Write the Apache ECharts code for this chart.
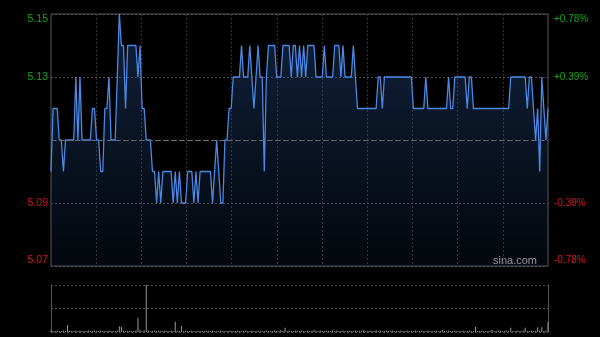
<!DOCTYPE html>
<html>
<head>
<meta charset="utf-8">
<script src="https://cdn.jsdelivr.net/npm/echarts@6/dist/echarts.min.js"></script>
<style>html,body{margin:0;padding:0;background:#000;}#c{width:600px;height:337px;}</style>
</head>
<body>
<div id="c"></div>
<script>
var prevClose = 5.11;
var priceTicks = [5.07, 5.09, 5.11, 5.13, 5.15];
var prices = [
5.10,5.12,5.12,5.12,5.11,5.11,5.10,5.11,5.11,5.11,5.11,5.11,5.13,5.11,5.13,5.11,5.11,5.11,5.11,5.11,
5.12,5.12,5.11,5.11,5.10,5.10,5.12,5.12,5.13,5.11,5.11,5.11,5.13,5.15,5.14,5.14,5.12,5.14,5.14,5.14,
5.14,5.14,5.13,5.14,5.12,5.12,5.11,5.11,5.11,5.10,5.10,5.09,5.10,5.09,5.10,5.10,5.10,5.10,5.10,5.09,
5.10,5.09,5.10,5.09,5.09,5.09,5.10,5.10,5.10,5.09,5.10,5.09,5.10,5.10,5.10,5.10,5.10,5.10,5.09,5.10,
5.11,5.10,5.09,5.09,5.11,5.11,5.12,5.12,5.13,5.13,5.13,5.13,5.14,5.13,5.13,5.13,5.14,5.13,5.12,5.13,
5.14,5.13,5.13,5.10,5.13,5.14,5.14,5.14,5.14,5.13,5.13,5.13,5.14,5.14,5.14,5.14,5.13,5.14,5.14,5.13,
5.14,5.13,5.14,5.13,5.14,5.14,5.14,5.14,5.13,5.13,5.13,5.13,5.14,5.13,5.13,5.13,5.13,5.14,5.14,5.14,
5.13,5.14,5.13,5.13,5.13,5.13,5.14,5.13,5.12,5.12,5.12,5.12,5.12,5.12,5.12,5.12,5.12,5.12,5.13,5.13,
5.12,5.13,5.13,5.13,5.13,5.13,5.13,5.13,5.13,5.13,5.13,5.13,5.13,5.13,5.13,5.12,5.12,5.12,5.12,5.12,
5.12,5.13,5.12,5.12,5.12,5.12,5.12,5.12,5.12,5.12,5.12,5.12,5.13,5.12,5.12,5.13,5.13,5.13,5.13,5.13,
5.13,5.12,5.13,5.13,5.12,5.12,5.12,5.12,5.12,5.12,5.12,5.12,5.12,5.12,5.12,5.12,5.12,5.12,5.12,5.12,
5.12,5.12,5.13,5.13,5.13,5.13,5.13,5.13,5.13,5.13,5.12,5.13,5.13,5.12,5.11,5.12,5.10,5.13,5.12,5.11,
5.12
];
var volumes = [
3,2,2,3,2,2,3,2,15,3,2,2,3,2,3,2,2,2,3,2,
2,3,2,2,3,2,2,2,3,2,2,2,3,12,11,3,2,2,3,2,
2,3,30,4,2,3,100,3,2,2,3,2,3,2,2,3,2,2,3,2,
22,3,2,13,2,3,2,2,3,2,2,3,2,2,2,3,2,2,3,2,
2,2,3,2,2,2,3,2,2,2,3,2,2,2,3,2,2,3,2,2,
3,2,2,2,3,2,2,2,3,2,2,4,2,9,2,3,2,2,3,2,
2,3,2,2,3,2,2,4,2,2,3,2,2,3,2,2,4,2,3,2,
2,3,2,2,3,2,2,3,2,2,3,4,2,2,3,2,2,4,2,3,
2,2,3,2,2,3,2,2,2,3,2,2,3,2,2,2,3,2,2,3,
2,2,3,2,2,2,3,2,2,4,2,2,3,2,2,3,2,2,2,3,
2,2,3,2,2,11,2,2,3,2,2,2,3,4,2,2,3,2,2,2,
3,2,9,2,2,3,2,2,3,9,2,2,3,2,2,10,3,10,2,3,
22
];
function buildTimes() {
  var t = [];
  function push(h0, m0, h1, m1) {
    var m = h0 * 60 + m0, e = h1 * 60 + m1;
    for (; m <= e; m++) {
      var h = Math.floor(m / 60), mm = m % 60;
      t.push((h < 10 ? '0' : '') + h + ':' + (mm < 10 ? '0' : '') + mm);
    }
  }
  push(9, 30, 11, 30);
  push(13, 1, 15, 0);
  return t;
}
var times = buildTimes();

var GREEN = '#16a516', RED = '#d01818';
function isMid(v) { return Math.abs(v - prevClose) < 1e-6; }
function isTop(v) { return Math.abs(v - priceTicks[priceTicks.length - 1]) < 1e-6; }
function isBot(v) { return Math.abs(v - priceTicks[0]) < 1e-6; }
function styleKey(v) {
  var up = v > prevClose;
  if (isTop(v)) return up ? 'gt' : 'rt';
  if (isBot(v)) return up ? 'gb' : 'rb';
  return up ? 'g' : 'r';
}
var rich = {
  g: {color: GREEN}, r: {color: RED},
  gt: {color: GREEN, padding: [10, 0, 0, 0]}, rt: {color: RED, padding: [10, 0, 0, 0]},
  gb: {color: GREEN, padding: [0, 0, 12, 0]}, rb: {color: RED, padding: [0, 0, 12, 0]}
};
var FONT = '"Liberation Sans", Arial, sans-serif';

var chart = echarts.init(document.getElementById('c'), null, {renderer: 'canvas'});
chart.setOption({
  backgroundColor: '#000',
  animation: false,
  grid: [
    {left: 51, right: 52, top: 14, height: 252, show: true, borderColor: '#555', borderWidth: 1, backgroundColor: 'transparent'},
    {left: 51, right: 52, top: 285, height: 47, show: false}
  ],
  graphic: [
    {type: 'text', right: 63, top: 255, style: {text: 'sina.com', fill: '#a0a0a0', font: '11px ' + FONT}}
  ],
  xAxis: [
    {type: 'category', gridIndex: 0, data: times, boundaryGap: false,
     axisLine: {show: false}, axisTick: {show: false}, axisLabel: {show: false}, splitLine: {show: false}},
    {type: 'value', gridIndex: 0, min: 0, max: 11, interval: 1,
     axisLine: {show: false}, axisTick: {show: false}, axisLabel: {show: false},
     splitLine: {show: true, lineStyle: {color: '#333', type: [2, 2], width: 1}}},
    {type: 'category', gridIndex: 1, data: times, boundaryGap: false,
     axisLine: {show: false}, axisTick: {show: false}, axisLabel: {show: false}, splitLine: {show: false}}
  ],
  yAxis: [
    {type: 'value', gridIndex: 0, position: 'left', min: 5.07, max: 5.15, interval: 0.02,
     axisLine: {show: false}, axisTick: {show: false},
     splitLine: {show: true, lineStyle: {color: '#555', type: [2, 2], width: 1}},
     axisLabel: {margin: 3, fontSize: 10.5, fontFamily: FONT, rich: rich,
       formatter: function (v) { if (isMid(v)) return ''; return '{' + styleKey(v) + '|' + v.toFixed(2) + '}'; }}},
    {type: 'value', gridIndex: 0, position: 'right', min: 5.07, max: 5.15, interval: 0.02,
     axisLine: {show: false}, axisTick: {show: false}, splitLine: {show: false},
     axisLabel: {margin: 6, fontSize: 10, fontFamily: FONT, rich: rich,
       formatter: function (v) {
         if (isMid(v)) return '';
         var p = (v - prevClose) / prevClose * 100;
         var s = (p > 0 ? '+' : '') + p.toFixed(2) + '%';
         return '{' + styleKey(v) + '|' + s + '}';
       }}},
    {type: 'value', gridIndex: 1, position: 'left', min: 0, max: 100, interval: 50,
     axisLine: {show: true, lineStyle: {color: '#555'}}, axisTick: {show: false}, axisLabel: {show: false},
     splitLine: {show: true, lineStyle: {color: '#555', type: [2, 2], width: 1}}},
    {type: 'value', gridIndex: 1, position: 'right', min: 0, max: 100, interval: 50,
     axisLine: {show: true, lineStyle: {color: '#555'}}, axisTick: {show: false}, axisLabel: {show: false},
     splitLine: {show: false}}
  ],
  series: [
    {type: 'line', xAxisIndex: 0, yAxisIndex: 0, data: prices, showSymbol: false, symbol: 'none',
     lineStyle: {color: '#4a88e4', width: 1.3},
     areaStyle: {origin: 'start', color: new echarts.graphic.LinearGradient(0, 0, 0, 1, [
       {offset: 0, color: 'rgba(34,68,122,0.7)'},
       {offset: 1, color: 'rgba(34,68,122,0.15)'}
     ])},
     markLine: {silent: true, symbol: 'none', label: {show: false},
       lineStyle: {color: '#6a6a6a', type: [5, 3], width: 1},
       data: [{yAxis: prevClose}]}},
    {type: 'bar', xAxisIndex: 2, yAxisIndex: 2, data: volumes, barWidth: 1,
     itemStyle: {color: '#9a9a9a'}}
  ]
});
</script>
</body>
</html>
